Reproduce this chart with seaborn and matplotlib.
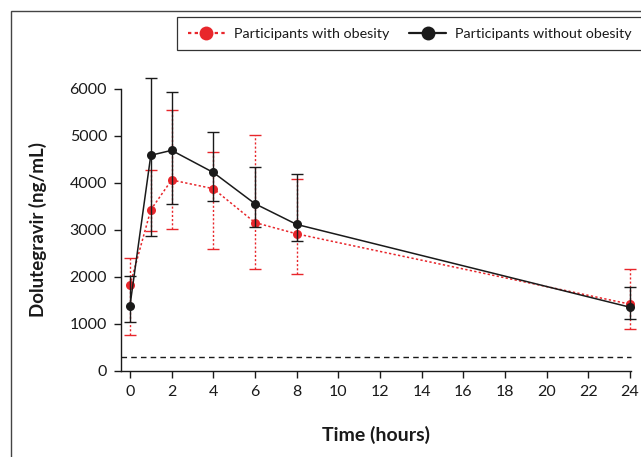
import matplotlib
matplotlib.use("Agg")
import matplotlib.pyplot as plt
from matplotlib.lines import Line2D
from matplotlib.patches import Rectangle
import numpy as np
import pandas as pd
import seaborn as sns

# ---- data ----
time_h = [0, 1, 2, 4, 6, 8, 24]

obese_mean = [1820, 3420, 4055, 3870, 3150, 2910, 1415]
obese_upper = [2400, 4270, 5545, 4645, 5020, 4085, 2165]
obese_lower = [755, 2960, 3020, 2590, 2160, 2065, 880]

nonobese_mean = [1380, 4580, 4685, 4215, 3550, 3110, 1350]
nonobese_upper = [2015, 6220, 5920, 5070, 4325, 4175, 1770]
nonobese_lower = [1045, 2855, 3545, 3615, 3065, 2750, 1100]

threshold = 285

x_ticks = [0, 2, 4, 6, 8, 10, 12, 14, 16, 18, 20, 22, 24]
y_ticks = [0, 1000, 2000, 3000, 4000, 5000, 6000]

label_obese = "Participants with obesity"
label_nonobese = "Participants without obesity"
x_label = "Time (hours)"
y_label = "Dolutegravir (ng/mL)"

RED = "#e8262b"
BLACK = "#1a1a1a"

sns.set_theme(style="ticks")
plt.rcParams["font.family"] = ["Lato", "DejaVu Sans"]
plt.rcParams["text.color"] = "#1a1a1a"
plt.rcParams["axes.labelcolor"] = "#1a1a1a"
plt.rcParams["xtick.color"] = "#1a1a1a"
plt.rcParams["ytick.color"] = "#1a1a1a"

df = pd.DataFrame({
    "time": time_h * 2,
    "conc": obese_mean + nonobese_mean,
    "group": [label_obese] * len(time_h) + [label_nonobese] * len(time_h),
})

fig = plt.figure(figsize=(6.41, 4.57), dpi=100)
ax = fig.add_axes([121 / 641, 1 - 370.7 / 457, (631 - 121) / 641, (370.7 - 88.5) / 457])

# threshold dashed line
ax.axhline(threshold, color=BLACK, linestyle=(0, (4, 3)), linewidth=1.0, zorder=1)

# error bars
ob = np.array(obese_mean)
eb1 = ax.errorbar(time_h, ob, yerr=[ob - np.array(obese_lower), np.array(obese_upper) - ob],
                  fmt="none", ecolor=RED, elinewidth=1.0, capsize=4, capthick=1.0, zorder=2)
for c in eb1[2]:
    c.set_linestyle((0, (1.5, 1.5)))
    c.set_clip_on(False)
for c in eb1[1]:
    c.set_clip_on(False)

nb = np.array(nonobese_mean)
eb2 = ax.errorbar(time_h, nb, yerr=[nb - np.array(nonobese_lower), np.array(nonobese_upper) - nb],
                  fmt="none", ecolor=BLACK, elinewidth=1.0, capsize=4, capthick=1.0, zorder=4)
for c in eb2[2]:
    c.set_clip_on(False)
for c in eb2[1]:
    c.set_clip_on(False)

# lines with markers
sns.lineplot(data=df[df.group == label_obese], x="time", y="conc", ax=ax, color=RED,
             linestyle=(0, (1.5, 1.5)), linewidth=1.1, marker="o", markersize=6.5,
             markeredgecolor=RED, markeredgewidth=0, zorder=3, legend=False)
sns.lineplot(data=df[df.group == label_nonobese], x="time", y="conc", ax=ax, color=BLACK,
             linestyle="-", linewidth=1.1, marker="o", markersize=6.5,
             markeredgecolor=BLACK, markeredgewidth=0, zorder=5, legend=False)
for ln in ax.lines:
    ln.set_clip_on(False)

ax.set_xlim(-0.43, 24.05)
ax.set_ylim(0, 6000)
ax.set_xticks(x_ticks)
ax.set_yticks(y_ticks)
ax.set_xticklabels([str(v) for v in x_ticks])
ax.set_yticklabels([str(v) for v in y_ticks])
ax.tick_params(axis="both", labelsize=11.5, length=5, width=1.0, direction="out", pad=5)
for s in ["top", "right"]:
    ax.spines[s].set_visible(False)
for s in ["left", "bottom"]:
    ax.spines[s].set_linewidth(1.0)
    ax.spines[s].set_color(BLACK)

ax.set_xlabel(x_label, fontsize=14, fontweight="bold", labelpad=20)
ax.set_ylabel(y_label, fontsize=13.5, fontweight="bold", labelpad=16)

# legend
handles = [
    Line2D([0], [0], color=RED, linestyle=(0, (1.5, 1.5)), linewidth=1.6, marker="o",
           markersize=10, markeredgewidth=0),
    Line2D([0], [0], color=BLACK, linestyle="-", linewidth=1.6, marker="o",
           markersize=10, markeredgewidth=0),
]
leg = fig.legend(handles, [label_obese, label_nonobese], loc="upper left",
                 bbox_to_anchor=(177 / 641, 1 - 17 / 457), ncol=2, fontsize=10.3,
                 frameon=True, fancybox=False, framealpha=1, edgecolor="#333333",
                 handlelength=2.6, handletextpad=0.6, columnspacing=1.4,
                 borderpad=0.75, borderaxespad=0)
leg.get_frame().set_linewidth(0.9)

# outer frame
fig.patches.append(Rectangle((11 / 641, -0.1), 1.2, 1 - 11 / 457 + 0.1, transform=fig.transFigure,
                             fill=False, edgecolor="#444444", linewidth=1.0))

fig.savefig("out.png", dpi=100)
